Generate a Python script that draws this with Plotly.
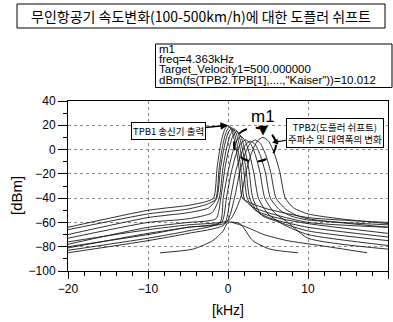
import plotly.graph_objects as go

# ---------------- data ----------------
title_text = "무인항공기 속도변화(100-500km/h)에 대한 도플러 쉬프트"
marker_lines = ["m1", "freq=4.363kHz", "Target_Velocity1=500.000000",
                'dBm(fs(TPB2.TPB[1],....,"Kaiser"))=10.012']
m1_freq = 4.363
m1_dbm = 10.012

x_ticks = [-20, -10, 0, 10, 20]
y_ticks = [-100, -80, -60, -40, -20, 0, 20, 40]

# spectra: frequency [kHz] / level [dBm]
c1_khz = [-20, -10, -5, -2.8, -1.8, -1.35, -0.9, -0.45, 0, 0.45, 0.9, 1.35, 1.8, 2.8, 5, 10, 20]
c1_dbm = [-64, -50, -46, -43, -40, -14, 5, 16, 20, 16, 5, -14, -40, -44, -49, -56, -60]
c2_khz = [-20, -10, -5, -2.6, -1.55, -1.1, -0.65, -0.2, 0.25, 0.7, 1.15, 1.6, 2.05, 3, 5, 10, 20]
c2_dbm = [-66, -53, -49, -45, -41, -15, 4, 15, 19, 15, 4, -15, -41, -47, -52, -60, -64]
c3_khz = [-20, -10, -5, -2.4, -1.4, -0.93, -0.45, 0.03, 0.5, 0.98, 1.45, 1.93, 2.4, 3.4, 6, 10, 20]
c3_dbm = [-70, -56, -52, -48, -40, -15, 3, 14, 18, 14, 3, -15, -40, -50, -56, -61, -69]
c4_khz = [-20, -10, -5, -2, -1.1, -0.63, -0.15, 0.33, 0.8, 1.28, 1.75, 2.23, 2.7, 3.8, 6, 10, 20]
c4_dbm = [-73, -60, -57, -52, -40, -15, 2, 13, 17, 13, 2, -15, -40, -52, -58, -64, -72]
c5_khz = [-20, -10, -5, -1.5, -0.9, -0.4, 0.1, 0.6, 1.1, 1.6, 2.1, 2.6, 3.1, 4.2, 6.5, 10, 20]
c5_dbm = [-78, -64, -60, -57, -40, -16, 0, 11, 15, 11, 0, -16, -40, -54, -60, -67, -75]
c6_khz = [-20, -10, -5, -1, -0.6, -0.05, 0.5, 1.05, 1.6, 2.15, 2.7, 3.25, 3.8, 5, 7, 10, 20]
c6_dbm = [-81, -69, -64, -60, -40, -20, -4, 7, 11, 7, -4, -20, -40, -53, -62, -70, -79]
c7_khz = [-20, -10, -5, -0.8, -0.2, 0.4, 1.0, 1.6, 2.2, 2.8, 3.4, 4.0, 4.6, 5.8, 7.5, 10, 20]
c7_dbm = [-83, -73, -67, -60, -40, -19, -4, 5, 8, 5, -4, -19, -40, -52, -60, -73, -82]
c8_khz = [-20, -10, -5, -0.5, 0.3, 0.925, 1.55, 2.175, 2.8, 3.425, 4.05, 4.675, 5.3, 6.5, 8, 10, 20]
c8_dbm = [-85, -75, -69, -62, -40, -19, -5, 4, 7, 4, -5, -19, -40, -50, -55, -58, -62]
c9_khz = [-20, -10, -5, -0.2, 0.8, 1.45, 2.1, 2.75, 3.4, 4.05, 4.7, 5.35, 6.0, 7.2, 8.5, 10, 20]
c9_dbm = [-80, -70, -64, -60, -40, -19, -4, 5, 8, 5, -4, -19, -40, -49, -54, -57, -64]
c10_khz = [-20, -10, -5, 0.2, 1.56, 2.26, 2.96, 3.66, 4.363, 5.06, 5.76, 6.46, 7.16, 8.2, 10, 14, 20]
c10_dbm = [-76, -66, -62, -58, -40, -18, -2.5, 7, 10.012, 7, -2.5, -18, -40, -48, -53, -57, -61]
low1_khz = [-8.5, -4.4, -1.9, -0.6, 0, 1.5, 3.1, 5.25, 8.75]
low1_dbm = [-85, -82, -75, -67, -60, -61, -75, -82, -85]
low2_khz = [0.5, 2, 4.5, 7.4, 11.5, 17.4]
low2_dbm = [-60, -63, -70, -75, -79, -85]

curves = [(c1_khz, c1_dbm), (c2_khz, c2_dbm), (c3_khz, c3_dbm), (c4_khz, c4_dbm),
          (c5_khz, c5_dbm), (c6_khz, c6_dbm), (c7_khz, c7_dbm), (c8_khz, c8_dbm),
          (c9_khz, c9_dbm), (c10_khz, c10_dbm), (low1_khz, low1_dbm), (low2_khz, low2_dbm)]

# ---------------- figure ----------------
W, H = 393, 322
ML, MR, MT, MB = 68, 5, 101, 51
PW, PH = W - ML - MR, H - MT - MB


def px(x):
    return (x - ML) / PW


def py(y):
    return (H - MB - y) / PH


fig = go.Figure()
for xs, ys in curves:
    fig.add_trace(go.Scatter(x=xs, y=ys, mode="lines",
                             line=dict(color="#1a1a1a", width=0.9, shape="spline", smoothing=0.6),
                             showlegend=False, hoverinfo="skip"))

tickfont = dict(family="Liberation Sans, Arial, sans-serif", size=12, color="black")
fig.update_layout(
    width=W, height=H, margin=dict(l=ML, r=MR, t=MT, b=MB),
    paper_bgcolor="white", plot_bgcolor="white", showlegend=False,
    xaxis=dict(range=[-20, 20], tickvals=x_ticks, ticks="outside", ticklen=7, tickcolor="black",
               showline=True, linecolor="black", linewidth=1, mirror=True,
               showgrid=True, gridcolor="#8a8a8a", griddash="dot", gridwidth=1,
               zeroline=False, tickfont=tickfont,
               minor=dict(dtick=2, ticks="outside", ticklen=4, tickcolor="black", showgrid=False)),
    yaxis=dict(range=[-100, 40], tickvals=y_ticks, ticks="outside", ticklen=9, tickcolor="black",
               showline=True, linecolor="black", linewidth=1, mirror=True,
               showgrid=True, gridcolor="#8a8a8a", griddash="dot", gridwidth=1,
               zeroline=False, tickfont=tickfont,
               minor=dict(dtick=10, ticks="outside", ticklen=4, tickcolor="black", showgrid=False)),
)

# dashed ellipse around shifted peaks
fig.add_shape(type="circle", xref="x", yref="y", x0=0.75, x1=6.0, y0=-10, y1=18,
              line=dict(color="black", width=2, dash="dash"))

# title box
fig.add_shape(type="rect", xref="paper", yref="paper", x0=px(17), x1=px(385), y0=py(28), y1=py(4),
              line=dict(color="black", width=1), fillcolor="white")
fig.add_annotation(xref="paper", yref="paper", x=px(201), y=py(16), text=title_text, showarrow=False,
                   font=dict(family="Noto Sans CJK KR", size=14, color="black"),
                   xanchor="center", yanchor="middle")

# marker readout box
fig.add_shape(type="rect", xref="paper", yref="paper", x0=px(155.5), x1=px(392), y0=py(87.5), y1=py(44),
              line=dict(color="black", width=1), fillcolor="white")
for i, t in enumerate(marker_lines):
    fig.add_annotation(xref="paper", yref="paper", x=px(156.5), y=py(48.5 + 10.4 * i), text=t,
                       showarrow=False, xanchor="left", yanchor="middle",
                       font=dict(family="Liberation Sans, Arial, sans-serif", size=11.5, color="black"))

# m1 marker
fig.add_annotation(x=m1_freq, y=m1_dbm, text="▼", showarrow=False, yshift=8,
                   xanchor="center", yanchor="middle",
                   font=dict(family="DejaVu Sans", size=13, color="black"))
fig.add_annotation(x=m1_freq, y=m1_dbm, text="m1", showarrow=False, yshift=21,
                   xanchor="center", yanchor="middle",
                   font=dict(family="Liberation Sans, Arial, sans-serif", size=17, color="black"))

# callouts
fig.add_annotation(x=0, y=20, text="TPB1 송신기 출력", showarrow=True, ax=-60, ay=6,
                   arrowhead=2, arrowsize=1, arrowwidth=1.5, arrowcolor="black",
                   bordercolor="black", borderwidth=1, borderpad=1, bgcolor="white",
                   font=dict(family="Noto Sans CJK KR", size=9.5, color="black"))
fig.add_annotation(x=5.5, y=5.8, text="TPB2(도플러 쉬프트)<br>주파수 및 대역폭의 변화", showarrow=True,
                   ax=63, ay=-10, arrowhead=2, arrowsize=1, arrowwidth=1.2, arrowcolor="black",
                   bordercolor="black", borderwidth=1, borderpad=1, bgcolor="white",
                   font=dict(family="Noto Sans CJK KR", size=9.5, color="black"))

# axis titles
fig.add_annotation(xref="paper", yref="paper", x=px(228), y=py(310), text="[kHz]", showarrow=False,
                   xanchor="center", yanchor="middle",
                   font=dict(family="Liberation Sans, Arial, sans-serif", size=14, color="black"))
fig.add_annotation(xref="paper", yref="paper", x=px(16), y=py(196), text="[dBm]", showarrow=False,
                   textangle=-90, xanchor="center", yanchor="middle",
                   font=dict(family="Liberation Sans, Arial, sans-serif", size=15, color="black"))

fig.write_html("out.html", config={"displayModeBar": False},
               post_script="document.body.style.margin='0';")
